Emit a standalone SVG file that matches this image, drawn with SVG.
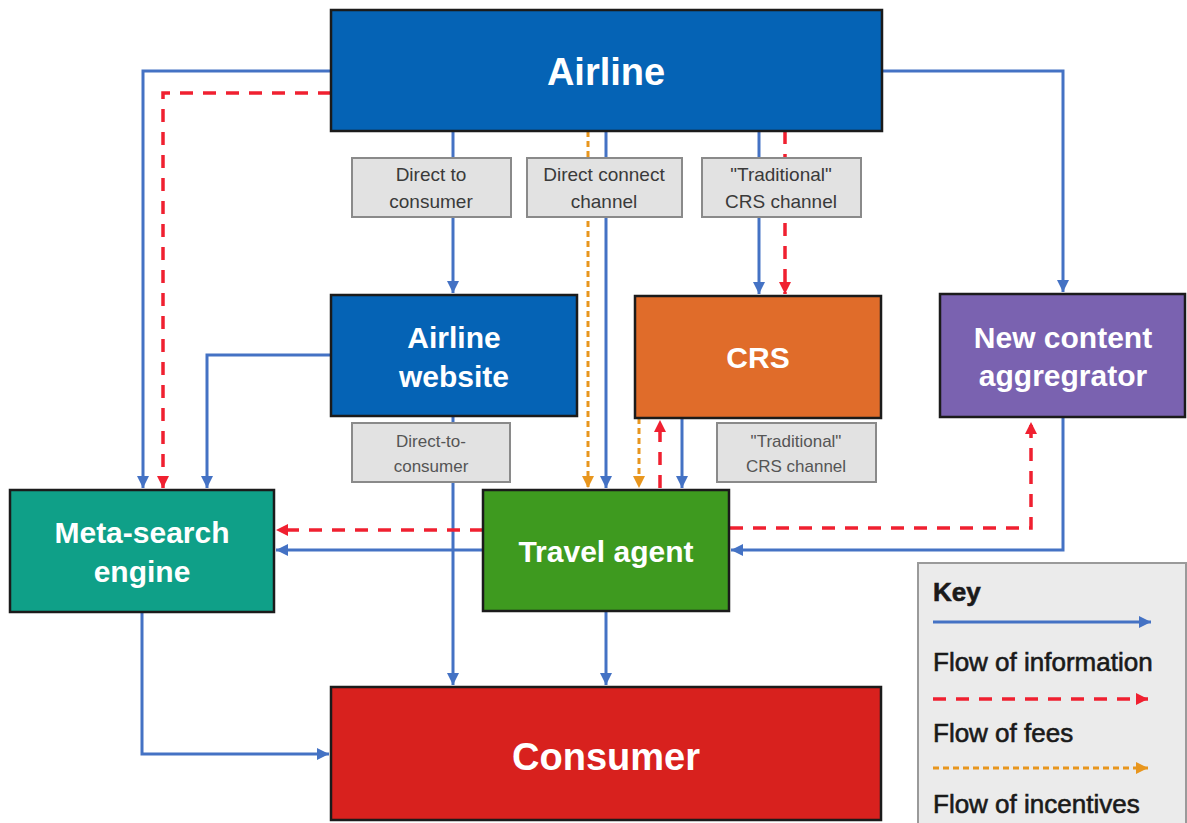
<svg xmlns="http://www.w3.org/2000/svg" width="1187" height="823" viewBox="0 0 1187 823">
<style>
.node{stroke:#1b1b1b;stroke-width:2.5}
.nt{font-family:"Liberation Sans",Arial,sans-serif;font-weight:bold;fill:#ffffff;text-anchor:middle}
.lbl{fill:#e2e2e2;stroke:#8a8a8a;stroke-width:2}
.lt{font-family:"Liberation Sans",Arial,sans-serif;fill:#3a3a3a;text-anchor:middle;font-size:19px}
.lt2{font-family:"Liberation Sans",Arial,sans-serif;fill:#555;text-anchor:middle;font-size:17px}
.info{fill:none;stroke:#4472C4;stroke-width:3}
.fee{fill:none;stroke:#F02030;stroke-width:3.5;stroke-dasharray:13 10}
.inc{fill:none;stroke:#E8961E;stroke-width:3;stroke-dasharray:6 4}
.kt{font-family:"Liberation Sans",Arial,sans-serif;fill:#1a1a1a;stroke:#1a1a1a;stroke-width:0.6;font-size:26px}
</style>
<defs>
<marker id="ab" markerUnits="userSpaceOnUse" markerWidth="14" markerHeight="12" refX="12" refY="6" orient="auto"><path d="M0,0 L12,6 L0,12 z" fill="#4472C4"/></marker>
<marker id="ar" markerUnits="userSpaceOnUse" markerWidth="14" markerHeight="12" refX="12" refY="6" orient="auto"><path d="M0,0 L12,6 L0,12 z" fill="#F02030"/></marker>
<marker id="ao" markerUnits="userSpaceOnUse" markerWidth="14" markerHeight="12" refX="12" refY="6" orient="auto"><path d="M0,0 L12,6 L0,12 z" fill="#E8961E"/></marker>
</defs>
<rect width="1187" height="823" fill="#ffffff"/>

<g id="connectors">
<path class="info" d="M331,71 H143 V488" marker-end="url(#ab)"/>
<path class="fee" d="M331,93 H163 V488" marker-end="url(#ar)"/>
<path class="info" d="M331,355 H207 V488" marker-end="url(#ab)"/>
<path class="info" d="M453,131 V293" marker-end="url(#ab)"/>
<path class="inc" d="M588,131 V488" marker-end="url(#ao)"/>
<path class="info" d="M606,131 V488" marker-end="url(#ab)"/>
<path class="info" d="M759,131 V294" marker-end="url(#ab)"/>
<path class="fee" d="M785,131 V294" marker-end="url(#ar)"/>
<path class="info" d="M882,71 H1063 V292" marker-end="url(#ab)"/>
<path class="inc" d="M639,418 V488" marker-end="url(#ao)"/>
<path class="fee" d="M660,488 V420" marker-end="url(#ar)"/>
<path class="info" d="M682,418 V488" marker-end="url(#ab)"/>
<path class="info" d="M453,416 V685" marker-end="url(#ab)"/>
<path class="info" d="M606,611 V685" marker-end="url(#ab)"/>
<path class="info" d="M142,612 V754 H329" marker-end="url(#ab)"/>
<path class="fee" d="M483,530 H276" marker-end="url(#ar)"/>
<path class="info" d="M483,550 H276" marker-end="url(#ab)"/>
<path class="fee" d="M730,528 H1031 V422" marker-end="url(#ar)"/>
<path class="info" d="M1063,417 V550 H731" marker-end="url(#ab)"/>
</g>

<g id="label-direct-to-consumer">
<rect class="lbl" x="352" y="158" width="159" height="59"/>
<text class="lt" x="431" y="181">Direct to</text>
<text class="lt" x="431" y="208">consumer</text>
</g>
<g id="label-direct-connect">
<rect class="lbl" x="527" y="158" width="155" height="59"/>
<text class="lt" x="604" y="181">Direct connect</text>
<text class="lt" x="604" y="208">channel</text>
</g>
<g id="label-traditional-crs">
<rect class="lbl" x="702" y="158" width="159" height="59"/>
<text class="lt" x="781" y="181">"Traditional"</text>
<text class="lt" x="781" y="208">CRS channel</text>
</g>
<g id="label-direct-to-consumer-2">
<rect class="lbl" x="352" y="423" width="158" height="59"/>
<text class="lt2" x="431" y="447">Direct-to-</text>
<text class="lt2" x="431" y="472">consumer</text>
</g>
<g id="label-traditional-crs-2">
<rect class="lbl" x="717" y="423" width="159" height="59"/>
<text class="lt2" x="796" y="447">"Traditional"</text>
<text class="lt2" x="796" y="472">CRS channel</text>
</g>

<g id="airline">
<rect class="node" x="331" y="10" width="551" height="121" fill="#0563B5"/>
<text class="nt" x="606" y="85" font-size="38">Airline</text>
</g>
<g id="airline-website">
<rect class="node" x="331" y="295" width="246" height="121" fill="#0563B5"/>
<text class="nt" x="454" y="348" font-size="30">Airline</text>
<text class="nt" x="454" y="387" font-size="30">website</text>
</g>
<g id="crs">
<rect class="node" x="635" y="296" width="246" height="122" fill="#E06C2A"/>
<text class="nt" x="758" y="368" font-size="30">CRS</text>
</g>
<g id="new-content-aggregator">
<rect class="node" x="940" y="294" width="245" height="123" fill="#7A62B0"/>
<text class="nt" x="1063" y="348" font-size="30">New content</text>
<text class="nt" x="1063" y="386" font-size="30">aggregrator</text>
</g>
<g id="meta-search-engine">
<rect class="node" x="10" y="490" width="264" height="122" fill="#0FA088"/>
<text class="nt" x="142" y="543" font-size="30">Meta-search</text>
<text class="nt" x="142" y="582" font-size="30">engine</text>
</g>
<g id="travel-agent">
<rect class="node" x="483" y="490" width="246" height="121" fill="#3E9A1F"/>
<text class="nt" x="606" y="562" font-size="30">Travel agent</text>
</g>
<g id="consumer">
<rect class="node" x="331" y="687" width="550" height="133" fill="#D8211E"/>
<text class="nt" x="606" y="770" font-size="38">Consumer</text>
</g>

<g id="key">
<rect x="918" y="563" width="268" height="262" fill="#EBEBEB" stroke="#9a9a9a" stroke-width="2"/>
<text class="kt" x="933" y="601" font-weight="bold">Key</text>
<path class="info" d="M933,622 H1151" marker-end="url(#ab)"/>
<text class="kt" x="933" y="671">Flow of information</text>
<path class="fee" d="M933,699 H1148" marker-end="url(#ar)"/>
<text class="kt" x="933" y="742">Flow of fees</text>
<path class="inc" d="M933,768 H1148" marker-end="url(#ao)"/>
<text class="kt" x="933" y="813">Flow of incentives</text>
</g>
</svg>
